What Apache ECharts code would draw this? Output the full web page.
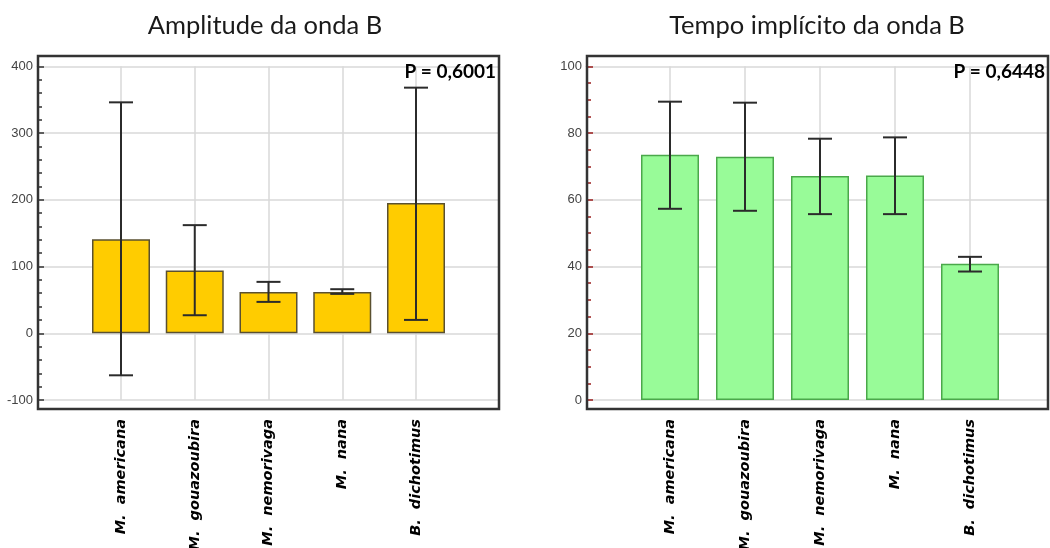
<!DOCTYPE html>
<html><head><meta charset="utf-8">
<script src="https://cdn.jsdelivr.net/npm/echarts@6/dist/echarts.min.js"></script>
<style>html,body{margin:0;padding:0;background:#fff}#c{width:1050px;height:548px}</style>
</head><body><div id="c"></div>
<script>
const categories = ['M.  americana', 'M.  gouazoubira', 'M.  nemorivaga', 'M.  nana', 'B.  dichotimus'];
const ampMean = [141, 94, 62, 62, 195];
const ampLow = [-63, 27, 47, 59, 20];
const ampHigh = [346, 162, 77, 66, 368];
const tempoMean = [73.5, 72.9, 67.1, 67.3, 40.8];
const tempoLow = [57.3, 56.7, 55.7, 55.7, 38.5];
const tempoHigh = [89.4, 89.1, 78.3, 78.7, 42.9];
const titles = ['Amplitude da onda B', 'Tempo implícito da onda B'];
const pLabels = ['P = 0,6001', 'P = 0,6448'];

const chart = echarts.init(document.getElementById('c'));
const GT = 66.3, GH = 333.7;
const gridLineColor = '#d9d9d9';

function errSeries(xi, low, high) {
  return {
    type: 'custom', xAxisIndex: xi, yAxisIndex: xi, z: 10, clip: false,
    data: low.map((l, i) => [i, l, high[i]]),
    renderItem(params, api) {
      const i = api.value(0);
      const lo = api.coord([i, api.value(1)]);
      const hi = api.coord([i, api.value(2)]);
      const w = 12;
      const st = { stroke: '#2b2b2b', lineWidth: 2 };
      return { type: 'group', children: [
        { type: 'line', shape: { x1: lo[0], y1: lo[1], x2: hi[0], y2: hi[1] }, style: st },
        { type: 'line', shape: { x1: lo[0] - w, y1: lo[1], x2: lo[0] + w, y2: lo[1] }, style: st },
        { type: 'line', shape: { x1: hi[0] - w, y1: hi[1], x2: hi[0] + w, y2: hi[1] }, style: st }
      ]};
    }
  };
}

function catAxis(gi) {
  return {
    type: 'category', gridIndex: gi, data: categories, boundaryGap: false,
    axisLine: { show: false }, axisTick: { show: false },
    splitLine: { show: true, lineStyle: { color: gridLineColor, width: 1.5 } },
    axisLabel: { rotate: 90, margin: 19, color: '#000', fontFamily: 'DejaVu Sans', fontWeight: 'bold', fontStyle: 'italic', fontSize: 14.5 }
  };
}
function valAxisY(gi, min, max, interval, minorSplit, tickColor) {
  return {
    type: 'value', gridIndex: gi, min: min, max: max, interval: interval,
    axisLine: { show: true, lineStyle: { color: '#333', width: 2 } },
    axisTick: { show: true, inside: true, length: 6, lineStyle: { color: tickColor, width: 1.5 } },
    minorTick: { show: true, splitNumber: minorSplit, length: 4, lineStyle: { color: tickColor, width: 1.5 } },
    splitLine: { show: true, lineStyle: { color: gridLineColor, width: 1.5 } },
    axisLabel: { color: '#444', fontFamily: 'Liberation Sans', fontSize: 13, margin: 5 }
  };
}
function grid(left, width) {
  return { left: left, top: GT, width: width, height: GH, containLabel: false, outerBoundsMode: 'none' };
}

chart.setOption({
  animation: false,
  backgroundColor: '#fff',
  grid: [grid(38, 461), grid(121, 295), grid(587, 461), grid(670, 300)],
  xAxis: [
    { type: 'value', gridIndex: 0, show: false, min: 0, max: 1 },
    catAxis(1),
    { type: 'value', gridIndex: 2, show: false, min: 0, max: 1 },
    catAxis(3)
  ],
  yAxis: [
    valAxisY(0, -100, 400, 100, 5, '#333'),
    { type: 'value', gridIndex: 1, min: -100, max: 400, show: false },
    valAxisY(2, 0, 100, 20, 4, '#9b1c1c'),
    { type: 'value', gridIndex: 3, min: 0, max: 100, show: false }
  ],
  series: [
    { type: 'bar', xAxisIndex: 1, yAxisIndex: 1, data: ampMean, barWidth: 58, clip: false,
      itemStyle: { color: '#FFCC00', borderColor: '#5a5030', borderWidth: 1.5 } },
    errSeries(1, ampLow, ampHigh),
    { type: 'bar', xAxisIndex: 3, yAxisIndex: 3, data: tempoMean, barWidth: 58, clip: false,
      itemStyle: { color: '#98FB98', borderColor: '#4aa84a', borderWidth: 1.5 } },
    errSeries(3, tempoLow, tempoHigh)
  ],
  graphic: [
    { type: 'rect', z: 100, shape: { x: 38, y: 56, width: 461, height: 353 }, style: { fill: null, stroke: '#333', lineWidth: 2.5 } },
    { type: 'rect', z: 100, shape: { x: 587, y: 56, width: 461, height: 353 }, style: { fill: null, stroke: '#333', lineWidth: 2.5 } },
    { type: 'text', z: 100, x: 265, y: 26, style: { text: titles[0], font: '25.5px Lato', fill: '#1a1a1a', align: 'center', verticalAlign: 'middle' } },
    { type: 'text', z: 100, x: 817, y: 26, style: { text: titles[1], font: '25.5px Lato', fill: '#1a1a1a', align: 'center', verticalAlign: 'middle' } },
    { type: 'text', z: 100, x: 496, y: 72, style: { text: pLabels[0], font: 'bold 19px Lato', fill: '#000', align: 'right', verticalAlign: 'middle' } },
    { type: 'text', z: 100, x: 1045, y: 72, style: { text: pLabels[1], font: 'bold 19px Lato', fill: '#000', align: 'right', verticalAlign: 'middle' } }
  ]
});
</script></body></html>
